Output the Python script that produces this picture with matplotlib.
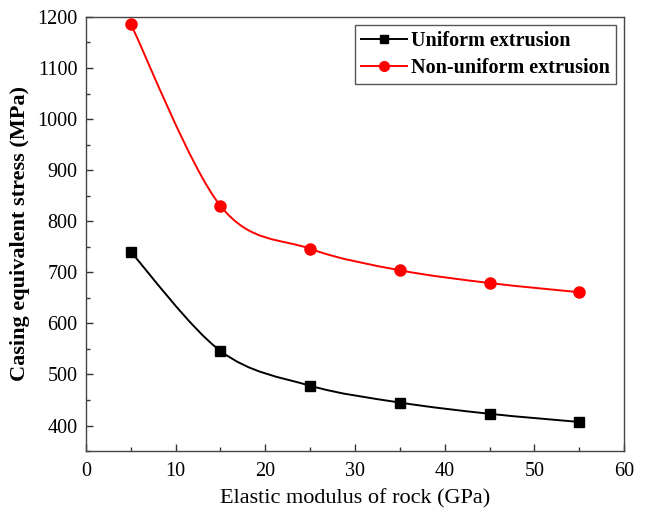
import numpy as np
import matplotlib
matplotlib.use("Agg")
import matplotlib.pyplot as plt
from matplotlib.path import Path
from matplotlib.patches import PathPatch
from matplotlib.lines import Line2D

# data
modulus = [5, 15, 25, 35, 45, 55]
uniform = [740, 546, 478, 445, 423, 407]
non_uniform = [1186, 830, 746, 704, 679, 661]

plt.rcParams['font.family'] = ['Liberation Serif', 'DejaVu Serif']


def smooth_path(x, y):
    """Catmull-Rom curve through the points, as cubic Bezier segments"""
    x = np.asarray(x, float)
    y = np.asarray(y, float)
    pts = np.column_stack([x, y])
    n = len(pts)
    verts = [pts[0]]
    codes = [Path.MOVETO]
    for i in range(n - 1):
        p0 = pts[i - 1] if i > 0 else pts[i]
        p1 = pts[i]
        p2 = pts[i + 1]
        p3 = pts[i + 2] if i + 2 < n else pts[i + 1]
        c1 = p1 + (p2 - p0) / 6.0
        c2 = p2 - (p3 - p1) / 6.0
        verts += [c1, c2, p2]
        codes += [Path.CURVE4] * 3
    return Path(verts, codes)


fig = plt.figure(figsize=(6.46, 5.12), dpi=100)
ax = fig.add_axes([0.133, 0.119, 0.833, 0.848])

series = [
    ('Uniform extrusion', uniform, 'black', 's', 7),
    ('Non-uniform extrusion', non_uniform, 'red', 'o', 8),
]
handles = []
for label, vals, col, mk, ms in series:
    ax.add_patch(PathPatch(smooth_path(modulus, vals), facecolor='none',
                           edgecolor=col, lw=1.4, zorder=2))
    ax.plot(modulus, vals, linestyle='none', marker=mk, markersize=ms,
            color=col, zorder=3)
    handles.append(Line2D([], [], color=col, lw=1.4, marker=mk,
                          markersize=ms - 1, label=label))

ax.set_xlim(0, 60)
ax.set_ylim(350, 1200)
ax.set_xticks(np.arange(0, 61, 10))
ax.set_xticks(np.arange(5, 60, 10), minor=True)
ax.set_yticks(np.arange(400, 1201, 100))
ax.set_yticks(np.arange(350, 1200, 100), minor=True)
ax.tick_params(which='both', direction='in', top=False, right=False,
               labelsize=14.5, width=1, colors='#333333', labelcolor='black')
ax.tick_params(which='major', length=5)
ax.tick_params(which='minor', length=3)
ax.tick_params(axis='x', pad=8)
ax.tick_params(axis='y', pad=6)
for s in ax.spines.values():
    s.set_color('#444444')
    s.set_linewidth(1)

ax.set_xlabel('Elastic modulus of rock (GPa)', fontsize=16, labelpad=6)
ax.set_ylabel('Casing equivalent stress (MPa)', fontsize=16,
              fontweight='bold', labelpad=5)

leg = ax.legend(handles=handles, loc='upper right', fancybox=False,
                prop={'weight': 'bold', 'size': 14.5}, handlelength=2.3,
                handletextpad=0.2, borderpad=0.3, labelspacing=0.35,
                borderaxespad=0.4, framealpha=1)
leg.get_frame().set_edgecolor('#555555')
leg.get_frame().set_linewidth(1)

fig.savefig('out.png', dpi=100)
